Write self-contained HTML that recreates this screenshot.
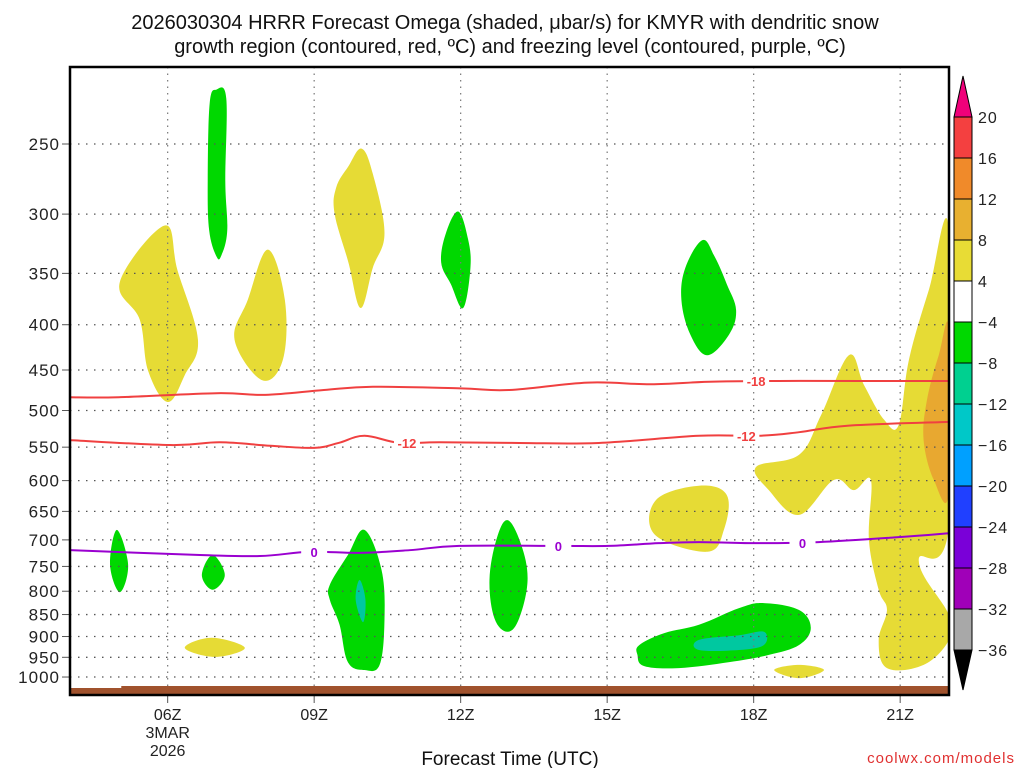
<!DOCTYPE html>
<html><head><meta charset="utf-8"><style>
body{margin:0;background:#fff;width:1024px;height:768px;overflow:hidden;font-family:"Liberation Sans",sans-serif}
svg text{font-family:"Liberation Sans",sans-serif}
</style></head><body>
<svg id="chart" width="1024" height="768" xmlns="http://www.w3.org/2000/svg">
<text x="505" y="29" font-size="20" text-anchor="middle" fill="#111">2026030304 HRRR Forecast Omega (shaded, μbar/s) for KMYR with dendritic snow</text>
<text x="510" y="53" font-size="20" text-anchor="middle" fill="#111">growth region (contoured, red, ºC) and freezing level (contoured, purple, ºC)</text>
<text x="510" y="765" font-size="19" text-anchor="middle" fill="#111">Forecast Time (UTC)</text>
<text x="1015" y="763" font-size="15" text-anchor="end" fill="#e03030" letter-spacing="1">coolwx.com/models</text>
<g id="plot"></g>
<g id="cbar"></g>
</svg>
<script>
const hourTicks=[6,9,12,15,18,21];
const hourLabels=['06Z','09Z','12Z','15Z','18Z','21Z'];
const pLevels=[250,300,350,400,450,500,550,600,650,700,750,800,850,900,950,1000];
const cbLevels=[20,16,12,8,4,-4,-8,-12,-16,-20,-24,-28,-32,-36];
const cbColors=['#f44040','#f08a2a','#e8b030','#e8dc35','#ffffff','#00d800','#00d090','#00c8c8','#00a0ff','#2040ff','#7a00d8','#a000b8','#a8a8a8'];
// shaded omega regions: [hour, hPa]
const yellowAreas=[
 [[5.02,358],[5.94,309],[6.2,347],[6.62,416],[6.35,456],[6.0,489],[5.6,451],[5.43,395]],
 [[8.05,329],[8.4,375],[8.36,438],[7.93,462],[7.37,416],[7.64,375]],
 [[9.97,253],[10.2,270],[10.44,315],[10.2,345],[9.95,383],[9.7,340],[9.42,300],[9.45,280],[9.7,265]],
 [[16.0,631],[16.88,608],[17.45,623],[17.39,682],[17.05,722],[15.98,691]],
 [[22,313],[22,673],[21.38,738],[22,851],[22,908],[21.48,969],[20.73,977],[20.56,908],[20.73,840],[20.56,797],[20.36,700],[20.4,599],[20.05,615],[19.64,599],[18.93,656],[18.31,615],[18.05,579],[18.93,561],[19.38,506],[19.95,433],[20.26,468],[20.67,512],[20.97,519],[21.18,438],[21.59,365]],
 [[6.35,927],[6.9,903],[7.58,927],[6.97,949]],
 [[18.42,982],[18.93,969],[19.44,982],[18.93,1003]]
];
const orangeAreas=[[[22,405],[22,618],[21.69,599],[21.48,540],[21.55,486],[21.79,433]]];
const greenAreas=[
 [[7.0,217],[7.2,222],[7.18,275],[7.22,313],[7.1,334],[7.0,335],[6.85,313],[6.82,275],[6.86,225]],
 [[11.95,298],[12.15,320],[12.2,345],[12.05,383],[11.8,360],[11.6,340],[11.7,315]],
 [[16.95,321],[17.2,335],[17.45,360],[17.64,385],[17.5,410],[17.05,433],[16.7,410],[16.52,375],[16.6,345]],
 [[4.96,682],[5.19,747],[5.02,802],[4.82,747]],
 [[6.92,728],[7.17,767],[6.92,797],[6.7,767]],
 [[10.03,682],[10.38,757],[10.44,862],[10.34,969],[10.03,982],[9.69,962],[9.52,873],[9.32,818],[9.32,787],[9.69,728]],
 [[12.96,665],[13.24,709],[13.37,777],[13.2,858],[12.96,889],[12.69,858],[12.59,777],[12.73,700]],
 [[15.66,920],[16.17,892],[16.88,873],[17.7,836],[18.21,825],[18.93,840],[19.17,880],[18.93,920],[18.31,944],[17.5,962],[16.47,977],[15.76,972],[15.62,944]]
];
const tealAreas=[
 [[9.93,777],[10.05,818],[10.0,867],[9.85,818]],
 [[16.88,908],[17.7,897],[18.21,889],[18.21,920],[17.7,932],[16.88,932]]
];
const contM18Hours=[4,5,7,8,9.2,10.2,12,13,14.6,15.9,17.1,18.5,20.2,22];
const contM18P=[483,483,478,480,474,470,472,474,465,467,464,463,463,463];
const contM12Hours=[4,6.05,7.07,8.1,9,9.5,10.03,10.75,11.57,13.2,14.83,16.88,18.1,18.93,19.95,22];
const contM12P=[540,547,543,548,551,544,534,544,543,544,544,534,534,529,520,515];
const cont0Hours=[4,6.66,7.89,8.91,9.93,10.95,11.97,14.01,15.03,16.06,16.88,18.1,19.33,20.97,22];
const cont0P=[719,728,730,722,724,719,711,711,711,706,704,706,704,695,688];
const labM18=[[18.05,463]];const labM12=[[10.9,544],[17.85,534]];const lab0=[[9.0,722],[14.0,711],[19.0,706]];

const X0=70,X1=949,Y0=67,Y1=695,H0=4,H1=22;
const xs=h=>X0+(h-H0)/(H1-H0)*(X1-X0);
const ys=p=>144+Math.log(p/250)*384.5;
const NS='http://www.w3.org/2000/svg';
function mk(tag,attrs,parent){const e=document.createElementNS(NS,tag);for(const k in attrs)e.setAttribute(k,attrs[k]);parent.appendChild(e);return e;}
function smoothPath(pts,closed){const n=pts.length;const P=i=>closed?pts[(i+n)%n]:pts[Math.max(0,Math.min(n-1,i))];
 let d='M'+pts[0][0]+','+pts[0][1];const t=0.18;const last=closed?n:n-1;
 for(let i=0;i<last;i++){const p0=P(i-1),p1=P(i),p2=P(i+1),p3=P(i+2);
  const c1=[p1[0]+(p2[0]-p0[0])*t,p1[1]+(p2[1]-p0[1])*t],c2=[p2[0]-(p3[0]-p1[0])*t,p2[1]-(p3[1]-p1[1])*t];
  d+=' C'+c1[0]+','+c1[1]+' '+c2[0]+','+c2[1]+' '+p2[0]+','+p2[1];}
 return d+(closed?'Z':'');}
const plot=document.getElementById('plot');
mk('rect',{x:X0,y:Y0,width:X1-X0,height:Y1-Y0,fill:'#fff'},plot);
const clip=mk('clipPath',{id:'pc'},plot);mk('rect',{x:X0,y:Y0,width:X1-X0,height:Y1-Y0},clip);
const shades=mk('g',{'clip-path':'url(#pc)'},plot);
function drawAreas(arr,color,name){arr.forEach(poly=>{const e=mk('path',{d:smoothPath(poly.map(q=>[xs(q[0]),ys(q[1])]),true),fill:color},shades);

});}
drawAreas(yellowAreas,'#e6db35','omega-4-8-area');
drawAreas(orangeAreas,'#e8a830','omega-8-12-area');
drawAreas(greenAreas,'#00d800','omega-neg4-neg8-area');
drawAreas(tealAreas,'#00c8a0','omega-neg8-neg12-area');
// grid
pLevels.forEach((p,i)=>{const y=ys(p);
 const g=mk('line',{x1:X0,x2:X1,y1:y,y2:y,stroke:'#555','stroke-width':1.3,'stroke-dasharray':'1.5,6.5'},plot);
 
 
 mk('line',{x1:X0-8,x2:X0,y1:y,y2:y,stroke:'#555'},plot);
 const t=mk('text',{x:60,y:y+6,'font-size':17,'text-anchor':'end',fill:'#222','letter-spacing':'1'},plot);t.textContent=p;
 
 });
hourTicks.forEach((h,i)=>{const x=xs(h);
 const g=mk('line',{x1:x,x2:x,y1:Y0,y2:Y1,stroke:'#777','stroke-width':1.2,'stroke-dasharray':'1.5,5'},plot);
 
 
 mk('line',{x1:x,x2:x,y1:Y1,y2:Y1+8,stroke:'#555'},plot);
 const t=mk('text',{x:x,y:Y1+25,'font-size':16,'text-anchor':'middle',fill:'#222'},plot);t.textContent=hourLabels[i];
 
 });
[['3MAR',738],['2026',756]].forEach(a=>{const t=mk('text',{x:xs(6),y:a[1],'font-size':16,'text-anchor':'middle',fill:'#222'},plot);t.textContent=a[0];
 
 });
// ground
const gr=mk('polygon',{points:`${X0},688 ${xs(5.05)},688 ${xs(5.05)},686 ${X1},686 ${X1},${Y1} ${X0},${Y1}`,fill:'#a0522d'},plot);


function line(hs,ps,color,name,labs,txt){const e=mk('path',{d:smoothPath(hs.map((h,i)=>[xs(h),ys(ps[i])]),false),fill:'none',stroke:color,'stroke-width':2},plot);
 
 
 labs.forEach(l=>{const x=xs(l[0]),y=ys(l[1]);mk('rect',{x:x-13,y:y-7,width:26,height:14,fill:'#fff'},plot);
 const t=mk('text',{x:x,y:y+5,'font-size':13,'font-weight':'bold','text-anchor':'middle',fill:color},plot);t.textContent=txt;
 
 });}
line(contM18Hours,contM18P,'#f04040','contour-minus18',labM18,'-18');
line(contM12Hours,contM12P,'#f04040','contour-minus12',labM12,'-12');
line(cont0Hours,cont0P,'#9a00d0','freezing-level-contour',lab0,'0');
mk('rect',{x:X0,y:Y0,width:X1-X0,height:Y1-Y0,fill:'none',stroke:'#000','stroke-width':2.5},plot);
// colorbar
const cb=document.getElementById('cbar');const CX=954,CW=18,CT=117,CB=650;const step=(CB-CT)/(cbLevels.length-1);
mk('polygon',{points:`${CX},${CT} ${CX+CW/2},76 ${CX+CW},${CT}`,fill:'#f0007a',stroke:'#000'},cb);
cbColors.forEach((c,i)=>{const r=mk('rect',{x:CX,y:CT+i*step,width:CW,height:step,fill:c,stroke:'#000','stroke-width':1},cb);
 
 });
mk('polygon',{points:`${CX},${CB} ${CX+CW/2},690 ${CX+CW},${CB}`,fill:'#000',stroke:'#000'},cb);
cbLevels.forEach((v,i)=>{const t=mk('text',{x:CX+CW+6,y:CT+i*step+6,'font-size':16,fill:'#222','letter-spacing':'1'},cb);t.textContent=v<0?'−'+(-v):v;
 
 });
</script>
</body></html>
